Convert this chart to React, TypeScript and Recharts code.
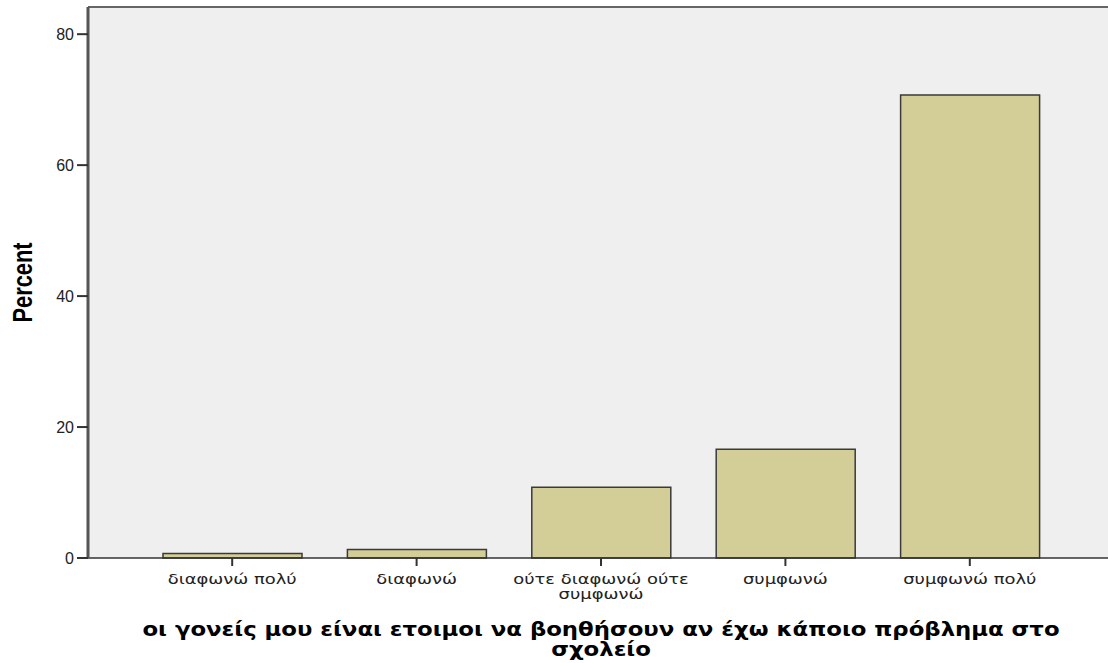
import React from 'react';
import { BarChart, Bar, XAxis, YAxis, CartesianGrid, ReferenceLine } from 'recharts';

const categories = ['διαφωνώ πολύ', 'διαφωνώ', 'ούτε διαφωνώ ούτε συμφωνώ', 'συμφωνώ', 'συμφωνώ πολύ'];
const percents = [0.7, 1.3, 10.8, 16.6, 70.7];
const yTicks = [0, 20, 40, 60, 80];
const yMax = 84.15;
const xTitleLines = ['οι γονείς μου είναι ετοιμοι να βοηθήσουν αν έχω κάποιο πρόβλημα στο', 'σχολείο'];
const yTitle = 'Percent';

const data = categories.map((name, i) => ({ name, value: percents[i] }));

// split long category names over two lines like SPSS does
function wrap(label: string, max = 18): string[] {
  const words = label.split(' ');
  const lines: string[] = [];
  let cur = '';
  for (const w of words) {
    const next = cur ? cur + ' ' + w : w;
    if (next.length > max && cur) {
      lines.push(cur);
      cur = w;
    } else {
      cur = next;
    }
  }
  if (cur) lines.push(cur);
  return lines;
}

const CategoryTick = (props: any) => {
  const { x, y, payload } = props;
  const lines = wrap(payload.value);
  return (
    <g transform={`translate(${x}, ${y}) scale(1.28, 1)`}>
      <text x={0} y={0} textAnchor="middle" fill="#222" fontSize={14} fontFamily="'DejaVu Sans', Verdana, sans-serif">
        {lines.map((l, i) => (
          <tspan key={i} x={0} dy={i === 0 ? 16 : 15}>
            {l}
          </tspan>
        ))}
      </text>
    </g>
  );
};

const XTitle = (props: any) => {
  const { viewBox } = props;
  const cx = viewBox.x + viewBox.width / 2;
  return (
    <g transform={`translate(${cx}, 636) scale(1.2, 1)`}>
      <text x={0} y={0} textAnchor="middle" fill="#000" fontSize={19} fontWeight="bold" fontFamily="'DejaVu Sans', Verdana, sans-serif">
        {xTitleLines.map((l, i) => (
          <tspan key={i} x={0} dy={i === 0 ? 0 : 20}>
            {l}
          </tspan>
        ))}
      </text>
    </g>
  );
};

const YTitle = (props: any) => {
  const { viewBox } = props;
  const cy = viewBox.y + viewBox.height / 2;
  return (
    <text
      x={0}
      y={0}
      transform={`translate(32, ${cy}) rotate(-90)`}
      textAnchor="middle"
      fill="#000"
      fontSize={28}
      fontWeight="bold"
      textLength={80}
      lengthAdjust="spacingAndGlyphs"
      fontFamily="'Liberation Sans', Arial, sans-serif"
    >
      {yTitle}
    </text>
  );
};

export default function App() {
  return (
    <div style={{ position: 'fixed', left: 0, top: 0, width: 1108, height: 663, overflow: 'hidden', background: '#fff' }}>
      <BarChart
        width={1130}
        height={663}
        data={data}
        margin={{ top: 7, right: 16, bottom: 75, left: 0 }}
      >
        <CartesianGrid horizontal={false} vertical={false} fill="#EFEFEF" />
        <XAxis
          dataKey="name"
          height={30}
          padding={{ left: 52, right: 52 }}
          tickSize={8}
          tickLine={{ stroke: '#333', strokeWidth: 2 }}
          axisLine={{ stroke: '#333', strokeWidth: 1.5 }}
          tick={<CategoryTick />}
          interval={0}
          label={{ content: <XTitle /> }}
        />
        <YAxis
          width={88}
          domain={[0, yMax]}
          ticks={yTicks}
          tickSize={11}
          tickMargin={3}
          tickLine={{ stroke: '#333', strokeWidth: 2 }}
          axisLine={{ stroke: '#555', strokeWidth: 3 }}
          tick={{ fill: '#222', fontSize: 16, fontFamily: "'Liberation Sans', Arial, sans-serif" }}
          label={{ content: <YTitle /> }}
        />
        <ReferenceLine y={yMax} stroke="#666" strokeWidth={2} />
        <Bar dataKey="value" fill="#D3CE97" stroke="#3a3a3a" strokeWidth={1.5} barSize={139} isAnimationActive={false} />
      </BarChart>
    </div>
  );
}
